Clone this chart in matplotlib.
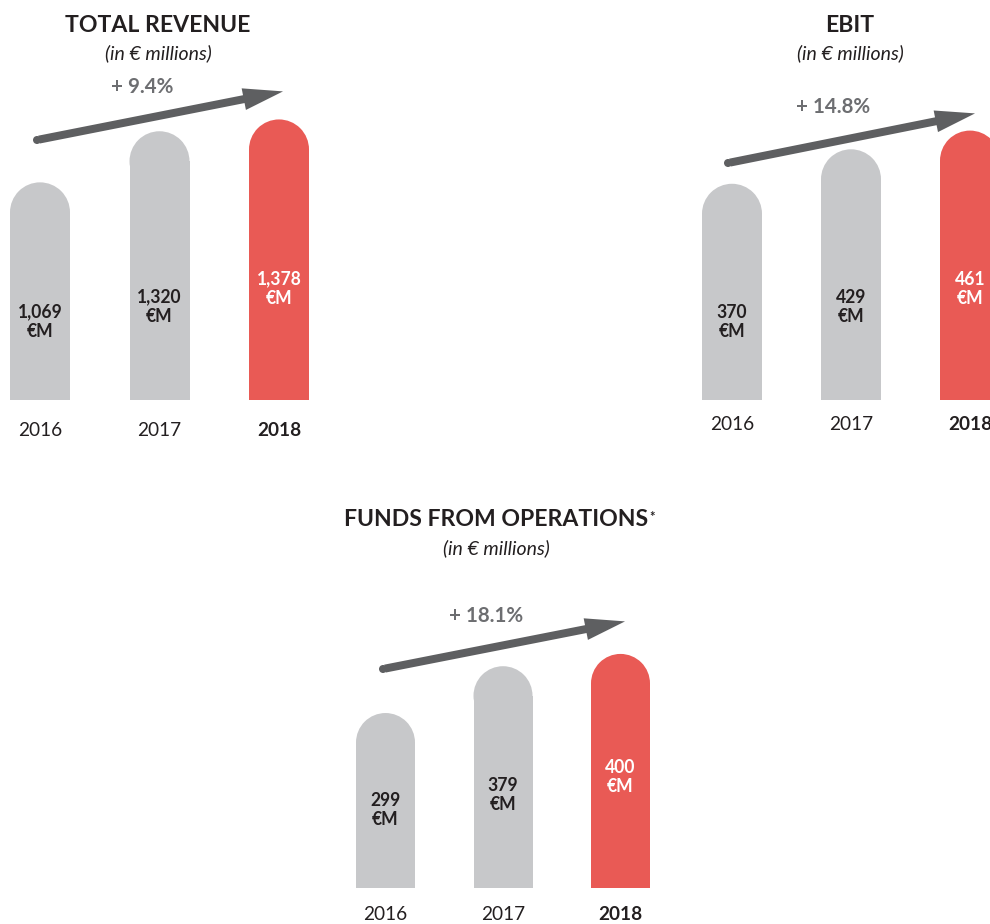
import matplotlib
matplotlib.use('Agg')
import matplotlib.pyplot as plt
from matplotlib.patches import Ellipse, FancyArrowPatch
import numpy as np

plt.rcParams['font.family'] = ['Lato', 'DejaVu Sans']

years = ['2016', '2017', '2018']
revenue = [1069, 1320, 1378]
ebit = [370, 429, 461]
ffo = [299, 379, 400]
revenue_labels = ['1,069\n€M', '1,320\n€M', '1,378\n€M']
ebit_labels = ['370\n€M', '429\n€M', '461\n€M']
ffo_labels = ['299\n€M', '379\n€M', '400\n€M']
growth = ['+ 9.4%', '+ 14.8%', '+ 18.1%']

GREY = '#c7c8ca'
RED = '#e95a55'
DARK = '#231f20'
ARROW = '#5e5f61'
PCT = '#6d6e71'

W, H = 990, 924
fig = plt.figure(figsize=(W / 72, H / 72), dpi=72)
fig.patch.set_facecolor('white')


def fx(x):
    return x / W


def fy(y):
    return 1 - y / H


def panel(vals, labels, c0, sp, base, top, scale, bw, year_off, arrow, pct_xy, pct):
    ax = fig.add_axes([fx(c0 - 0.5 * sp), fy(base), 3 * sp / W, (base - top) / H])
    ax.set_xlim(-0.5, 2.5)
    ax.set_ylim(0, (base - top) / scale)
    ax.axis('off')
    x = np.arange(3)
    bwd = bw / sp
    r = (bw / 2) / scale
    cols = [GREY, GREY, RED]
    v = np.array(vals, dtype=float)
    # bar body + half-round cap on top
    ax.bar(x, v - r, width=bwd, color=cols, linewidth=0, clip_on=False)
    for i in range(3):
        ax.add_patch(Ellipse((x[i], v[i] - r), bwd, 2 * r, color=cols[i],
                             linewidth=0, clip_on=False))
    # value labels sit at fixed heights above the base
    for i, off in enumerate([78, 93, 111]):
        ax.annotate(labels[i], xy=(x[i], 0), xytext=(0, off), textcoords='offset points',
                    ha='center', va='center', fontsize=17.5, fontweight='bold',
                    color='white' if i == 2 else DARK, linespacing=1.2,
                    annotation_clip=False)
    for i in range(3):
        ax.annotate(years[i], xy=(x[i], 0), xytext=(0, -year_off), textcoords='offset points',
                    ha='center', va='center', fontsize=19,
                    fontweight='bold' if i == 2 else 'normal', color=DARK,
                    annotation_clip=False)
    # growth arrow
    (x0, y0), (x1, y1) = arrow
    fig.add_artist(FancyArrowPatch((fx(x0), fy(y0)), (fx(x1), fy(y1)),
                                   transform=fig.transFigure,
                                   arrowstyle='simple,head_width=22,head_length=40,tail_width=8',
                                   mutation_scale=1, color=ARROW, linewidth=0))
    fig.add_artist(Ellipse((fx(x0), fy(y0)), 8 / W, 8 / H, transform=fig.transFigure,
                           color=ARROW, linewidth=0))
    fig.text(fx(pct_xy[0]), fy(pct_xy[1]), pct, ha='center', va='center',
             fontsize=20.5, fontweight='bold', color=PCT)
    return ax


def titles(cx, ty, title, sy):
    t = fig.text(fx(cx), fy(ty), title, ha='center', va='center', fontsize=23,
                 fontweight='bold', color=DARK)
    fig.text(fx(cx), fy(sy), '(in € millions)', ha='center', va='center', fontsize=19.5,
             style='italic', color=DARK)
    return t


titles(158, 25, 'TOTAL REVENUE', 53)
panel(revenue, revenue_labels, 40, 119.5, 400, 60, 0.2036, 60, 30,
      ((37, 140), (285, 91)), (142, 87), growth[0])

titles(850, 25, 'EBIT', 53)
panel(ebit, ebit_labels, 732, 119, 400, 60, 0.5844, 60, 25,
      ((728, 163), (977, 113)), (833, 107), growth[1])

t = titles(496, 520, 'FUNDS FROM OPERATIONS', 548)
plt.annotate('*', xy=(1, 1), xycoords=t, xytext=(1, -1), textcoords='offset points',
             ha='left', va='top', fontsize=13, fontweight='bold', color=DARK,
             annotation_clip=False)
panel(ffo, ffo_labels, 385.5, 117.5, 888, 560, 0.5852, 59, 27,
      ((383, 669), (627, 621)), (486, 616), growth[2])

fig.savefig('out.png', dpi=72, facecolor='white')
